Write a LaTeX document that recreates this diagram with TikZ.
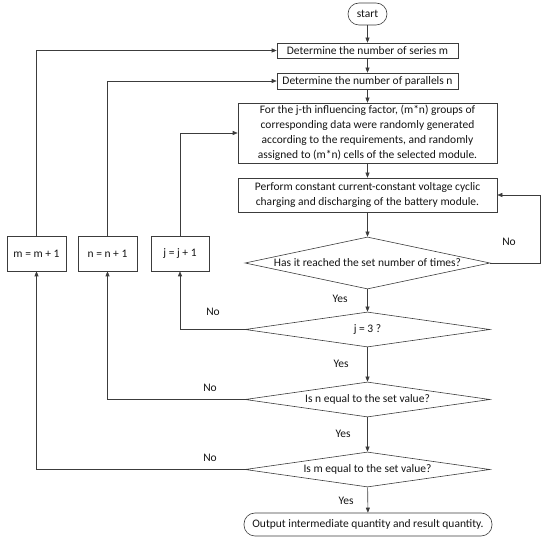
\documentclass[tikz,border=0pt]{standalone}
\usepackage{fontspec}
\setmainfont{Carlito}
\usepackage{tikz}
\usetikzlibrary{arrows.meta, shapes.geometric, calc}
\definecolor{figL}{RGB}{60,60,60}
\definecolor{figT}{RGB}{20,20,20}
% narrow box so that the diamond takes its size from minimum width/height
\newcommand{\dlabel}[1]{\makebox[60pt]{#1}}

\begin{document}
\begin{tikzpicture}[x=1pt, y=-1pt,
  every node/.style={font=\fontsize{11.5}{15}\selectfont, text=figT},
  procbox/.style={draw=figL, line width=0.6pt, inner sep=0pt, align=center},
  termbox/.style={draw=figL, line width=0.6pt, rounded corners=11pt, inner sep=0pt},
  decbox/.style={draw=figL, line width=0.6pt, diamond, aspect=5, inner sep=0pt,
    minimum width=245pt},
  flow/.style={draw=figL, line width=0.6pt, -{Triangle[length=5pt, width=4pt]}},
  lbl/.style={font=\fontsize{11.5}{13}\selectfont}]
\useasboundingbox (0,0) rectangle (550,545);
% ---- main column ----
\node[termbox, minimum width=39pt, minimum height=22pt] (start) at (367.5,14) {start};
\node[procbox, minimum width=181pt, minimum height=15pt] (series) at (367.5,50.5)
  {Determine the number of series m};
\node[procbox, minimum width=181pt, minimum height=16pt] (paral) at (367.5,81)
  {Determine the number of parallels n};
\node[procbox, minimum width=259pt, minimum height=60pt] (factor) at (367.5,133)
  {For the j-th influencing factor, (m*n) groups of\\
   corresponding data were randomly generated\\
   according to the requirements, and randomly\\
   assigned to (m*n) cells of the selected module.};
\node[procbox, minimum width=259pt, minimum height=34pt] (cycle) at (367.5,195)
  {Perform constant current-constant voltage cyclic\\
   charging and discharging of the battery module.};
\node[decbox, minimum height=52pt] (reach) at (367.5,263)
  {\dlabel{Has it reached the set number of times?}};
\node[decbox, minimum height=35pt] (jchk) at (367.5,329.5) {\dlabel{j = 3 ?}};
\node[decbox, minimum height=35pt] (nchk) at (367.5,399.5) {\dlabel{Is n equal to the set value?}};
\node[decbox, minimum height=35pt] (mchk) at (367.5,469.5) {\dlabel{Is m equal to the set value?}};
\node[termbox, minimum width=248pt, minimum height=23pt] (output) at (368,524.5)
  {Output intermediate quantity and result quantity.};
% ---- counters on the left ----
\node[procbox, minimum width=59pt, minimum height=35pt] (mbox) at (36.5,253.5) {m = m + 1};
\node[procbox, minimum width=59pt, minimum height=35pt] (nbox) at (107.5,253.5) {n = n + 1};
\node[procbox, minimum width=58pt, minimum height=35pt] (jbox) at (180,253.5) {j = j + 1};
\coordinate (rloop) at (540,263);
% ---- connectors ----
\draw[flow] (start) -- (series);
\draw[flow] (series) -- (paral);
\draw[flow] (paral) -- (factor);
\draw[flow] (factor) -- (cycle);
\draw[flow] (cycle) -- (reach);
\draw[flow] (reach) -- (jchk);
\draw[flow] (jchk) -- (nchk);
\draw[flow] (nchk) -- (mchk);
\draw[flow] (mchk) -- (output);
\draw[flow] (reach.east) -- (rloop) |- (cycle.east);
\draw[flow] (jchk.west) -| (jbox.south);
\draw[flow] (nchk.west) -| (nbox.south);
\draw[flow] (mchk.west) -| (mbox.south);
\draw[flow] (jbox.north) |- (factor.west);
\draw[flow] (nbox.north) |- (paral.west);
\draw[flow] (mbox.north) |- (series.west);
% ---- branch labels ----
\node[lbl] (y1) at (340,299) {Yes};
\node[lbl] (y2) at (341,364) {Yes};
\node[lbl] (y3) at (343,434) {Yes};
\node[lbl] (y4) at (346,501) {Yes};
\node[lbl] (n1) at (509,242) {No};
\node[lbl] (n2) at (213,312) {No};
\node[lbl] (n3) at (210,388) {No};
\node[lbl] (n4) at (210,458) {No};
\end{tikzpicture}
\end{document}
